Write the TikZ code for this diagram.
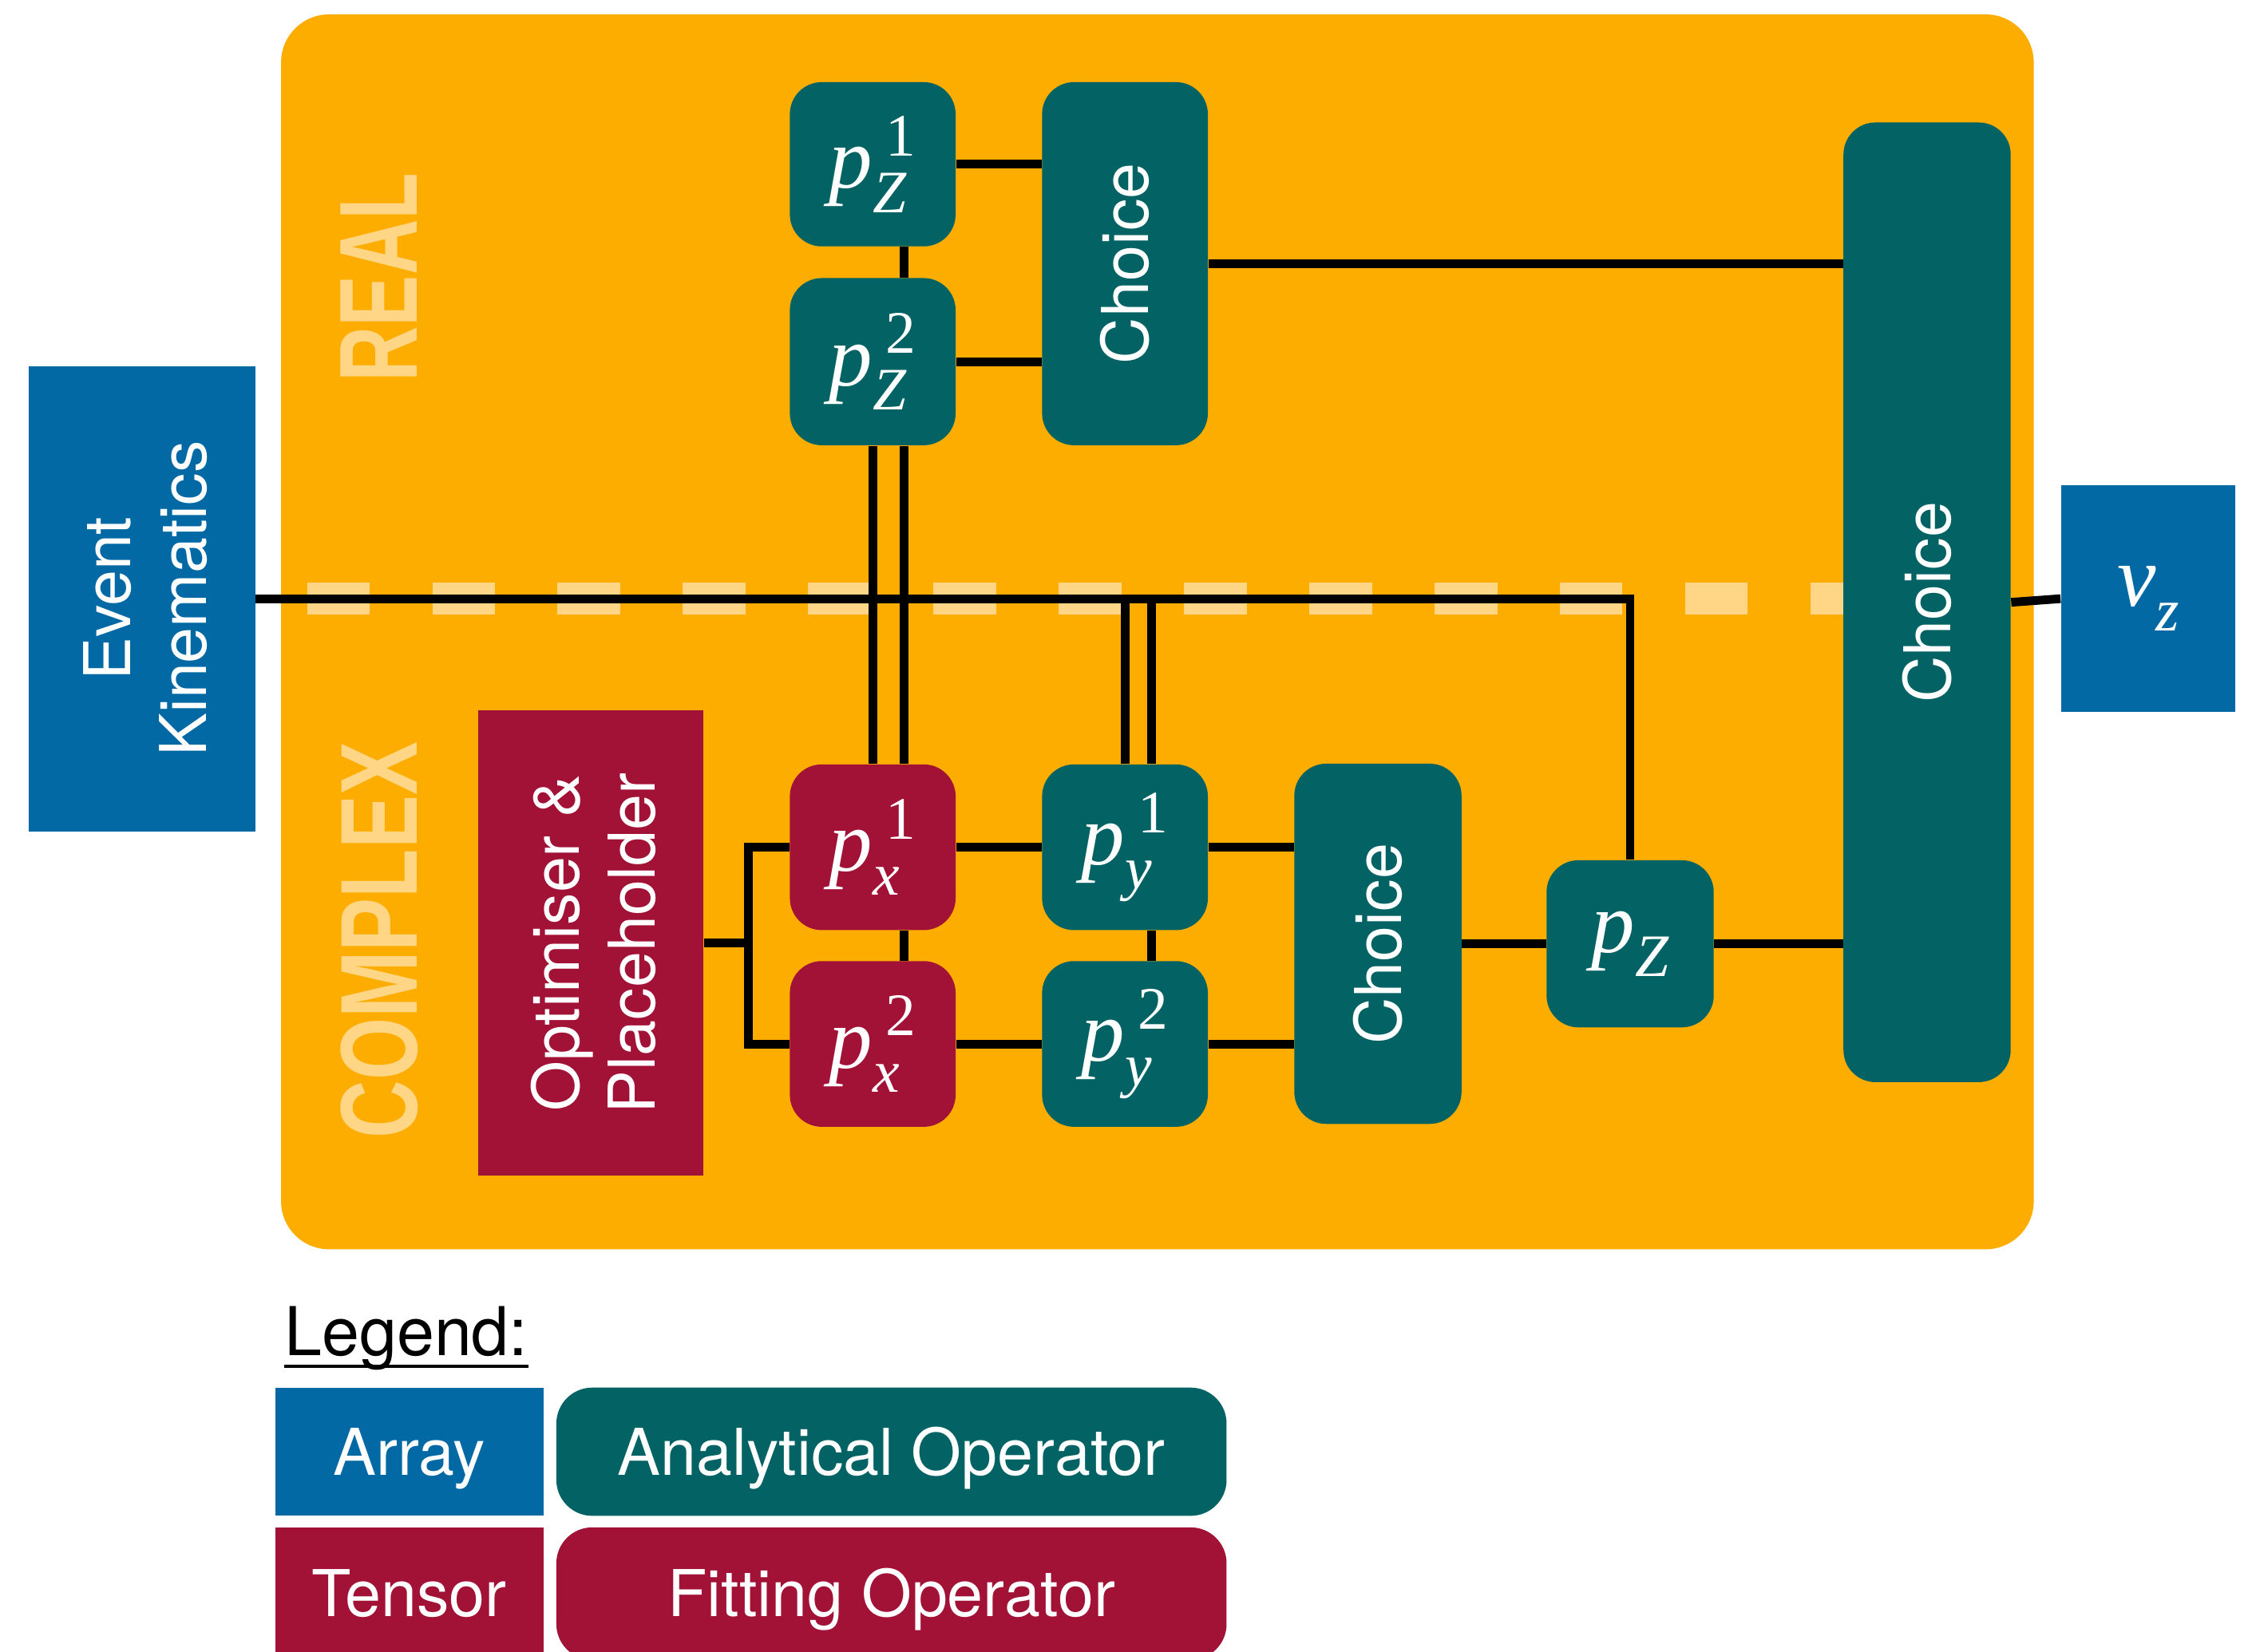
\documentclass[tikz,border=0pt]{standalone}
\usepackage{fontspec}
\usepackage{graphicx}
\setmainfont{TeX Gyre Heros}
\newfontfamily\tms{Liberation Serif}
\newfontfamily\heavy{Liberation Sans}

% one drawing unit
\newlength\unitpx
\setlength\unitpx{0.018055cm}

\definecolor{panel}{RGB}{253,173,0}
\definecolor{opteal}{RGB}{2,98,100}
\definecolor{tensred}{RGB}{161,18,54}
\definecolor{arrblue}{RGB}{2,105,165}
\definecolor{paleyel}{RGB}{255,214,133}

% momentum symbol with stacked sub- and superscript
\newsavebox\supbox
\newsavebox\subbox
\newlength\scrw
\newcommand\pvar[2]{\mbox{\fontsize{31}{31}\selectfont\tms\itshape
  \sbox\supbox{\kern0.15em\raisebox{0.37em}{\fontsize{21.5}{21.5}\selectfont\upshape #2}}%
  \sbox\subbox{\raisebox{-0.28em}{\fontsize{21.5}{21.5}\selectfont #1}}%
  \setlength\scrw{\wd\subbox}%
  \ifdim\wd\supbox>\scrw \setlength\scrw{\wd\supbox}\fi
  p\makebox[\scrw][l]{\rlap{\usebox\supbox}\usebox\subbox}}}
\newcommand\vsym{\mbox{\fontsize{31}{31}\selectfont\tms\itshape
  v\raisebox{-0.28em}{\fontsize{21.5}{21.5}\selectfont z}}}
% two centred lines, set upright before turning
\newcommand\twolines[2]{\begin{tabular}{@{}c@{}}#1\\#2\\[-8pt]\end{tabular}}

\tikzset{
  base/.style={inner sep=0pt, text=white, font=\fontsize{23}{27}\selectfont},
  dims/.style 2 args={minimum width=#1*0.018055cm, minimum height=#2*0.018055cm},
  opbox/.style={base, fill=opteal, rounded corners=0.4cm},
  fitbox/.style={base, fill=tensred, rounded corners=0.4cm},
  arrbox/.style={base, fill=arrblue},
  tensbox/.style={base, fill=tensred},
  sq/.style={dims={115}{115}},
  legtext/.style={text height=16.5pt, text depth=0pt},
  wire/.style={line width=3.1pt, black},
  section label/.style={text=paleyel, inner sep=0pt, rotate=90},
}

\begin{document}
\begin{tikzpicture}[x=0.018055cm, y=-0.018055cm]
\useasboundingbox (0,0) rectangle (1568,1146);

% panel and the dashed divider between the two halves
\fill[panel, rounded corners=0.6cm] (195,10) rectangle (1411,867);
\draw[paleyel, line width=0.397cm, dash pattern=on 0.785cm off 0.784cm] (213,415.5) -- (1300,415.5);

\node[section label] (real) at (263,192.5) {\resizebox{145\unitpx}{53\unitpx}{\heavy\bfseries REAL}};
\node[section label] (complex) at (263,652.5) {\resizebox{275\unitpx}{53\unitpx}{\heavy\bfseries COMPLEX}};

% input and output arrays
\node[arrbox, dims={157}{323}] (ek) at (98.5,415.5)
  {\rotatebox{90}{\twolines{Event}{Kinematics}}};
\node[arrbox, dims={121}{157}] (vz) at (1490.5,415.5) {\vsym};

% real branch
\node[opbox, dims={115}{114}] (pz1) at (605.5,114) {\pvar{Z}{1}};
\node[opbox, dims={115}{116}] (pz2) at (605.5,251) {\pvar{Z}{2}};
\node[opbox, dims={115}{252}] (chA) at (780.5,183) {\rotatebox{90}{Choice}};

% complex branch
\node[tensbox, dims={156}{323}] (opt) at (410,654.5)
  {\rotatebox{90}{\twolines{Optimiser \&}{Placeholder}}};
\node[fitbox, sq] (px1) at (605.5,588) {\pvar{x}{1}};
\node[fitbox, sq] (px2) at (605.5,724.5) {\pvar{x}{2}};
\node[opbox, sq] (py1) at (780.5,588) {\pvar{y}{1}};
\node[opbox, sq] (py2) at (780.5,724.5) {\pvar{y}{2}};
\node[opbox, dims={116}{250}] (chB) at (956,655) {\rotatebox{90}{Choice}};
\node[opbox, dims={116}{116}] (pzC) at (1131,655) {\pvar{Z}{}};

% final selection
\node[opbox, dims={116}{666}] (chBig) at (1337,418) {\rotatebox{90}{Choice}};

% helper columns for the parallel wires
\coordinate (c627) at (627,0);
\coordinate (c799) at (799,0);
\coordinate (c519) at (519,0);

% wires
\draw[wire] (ek.east) -| (pzC.north);
\draw[wire] (pz1.east) -- (pz1.east -| chA.west);
\draw[wire] (pz2.east) -- (pz2.east -| chA.west);
\draw[wire] (c627 |- pz1.south) -- (c627 |- pz2.north);
\draw[wire] (pz2.south) -- (px1.north);
\draw[wire] (c627 |- pz2.south) -- (c627 |- px1.north);
\draw[wire] (c627 |- px1.south) -- (c627 |- px2.north);
\draw[wire] (py1.north) -- (py1.north |- ek.east);
\draw[wire] (c799 |- py1.north) -- (c799 |- ek.east);
\draw[wire] (c799 |- py1.south) -- (c799 |- py2.north);
\draw[wire] (px1.east) -- (py1.west);
\draw[wire] (px2.east) -- (py2.west);
\draw[wire] (py1.east) -- (py1.east -| chB.west);
\draw[wire] (py2.east) -- (py2.east -| chB.west);
\draw[wire] (opt.east) -- (c519 |- opt.east);
\draw[wire] (px1.west) -- (c519 |- px1.west) -- (c519 |- px2.west) -- (px2.west);
\draw[wire] (chB.east) -- (pzC.west);
\draw[wire] (pzC.east) -- (pzC.east -| chBig.west);
\draw[wire] (chA.east) -- (chA.east -| chBig.west);
\draw[wire] (chBig.east) -- (vz.west);

% legend
\node[anchor=base west, inner sep=0pt, font=\fontsize{24}{28}\selectfont] (leg) at (197,941) {Legend:};
\draw[line width=1.4pt] ([yshift=-1.3mm]leg.base west) -- ([yshift=-1.3mm]leg.base east);
\begin{scope}
\clip (0,0) rectangle (1568,1146);
\node[arrbox, legtext, dims={186}{89}] (la) at (284,1007.5) {Array};
\node[opbox, legtext, rounded corners=0.45cm, dims={465}{89}] (lao) at (618.5,1007.5) {Analytical Operator};
\node[tensbox, legtext, dims={186}{92}] (lt) at (284,1106) {Tensor};
\node[fitbox, legtext, rounded corners=0.45cm, dims={465}{92}] (lfo) at (618.5,1106) {Fitting Operator};
\end{scope}
\end{tikzpicture}
\end{document}
